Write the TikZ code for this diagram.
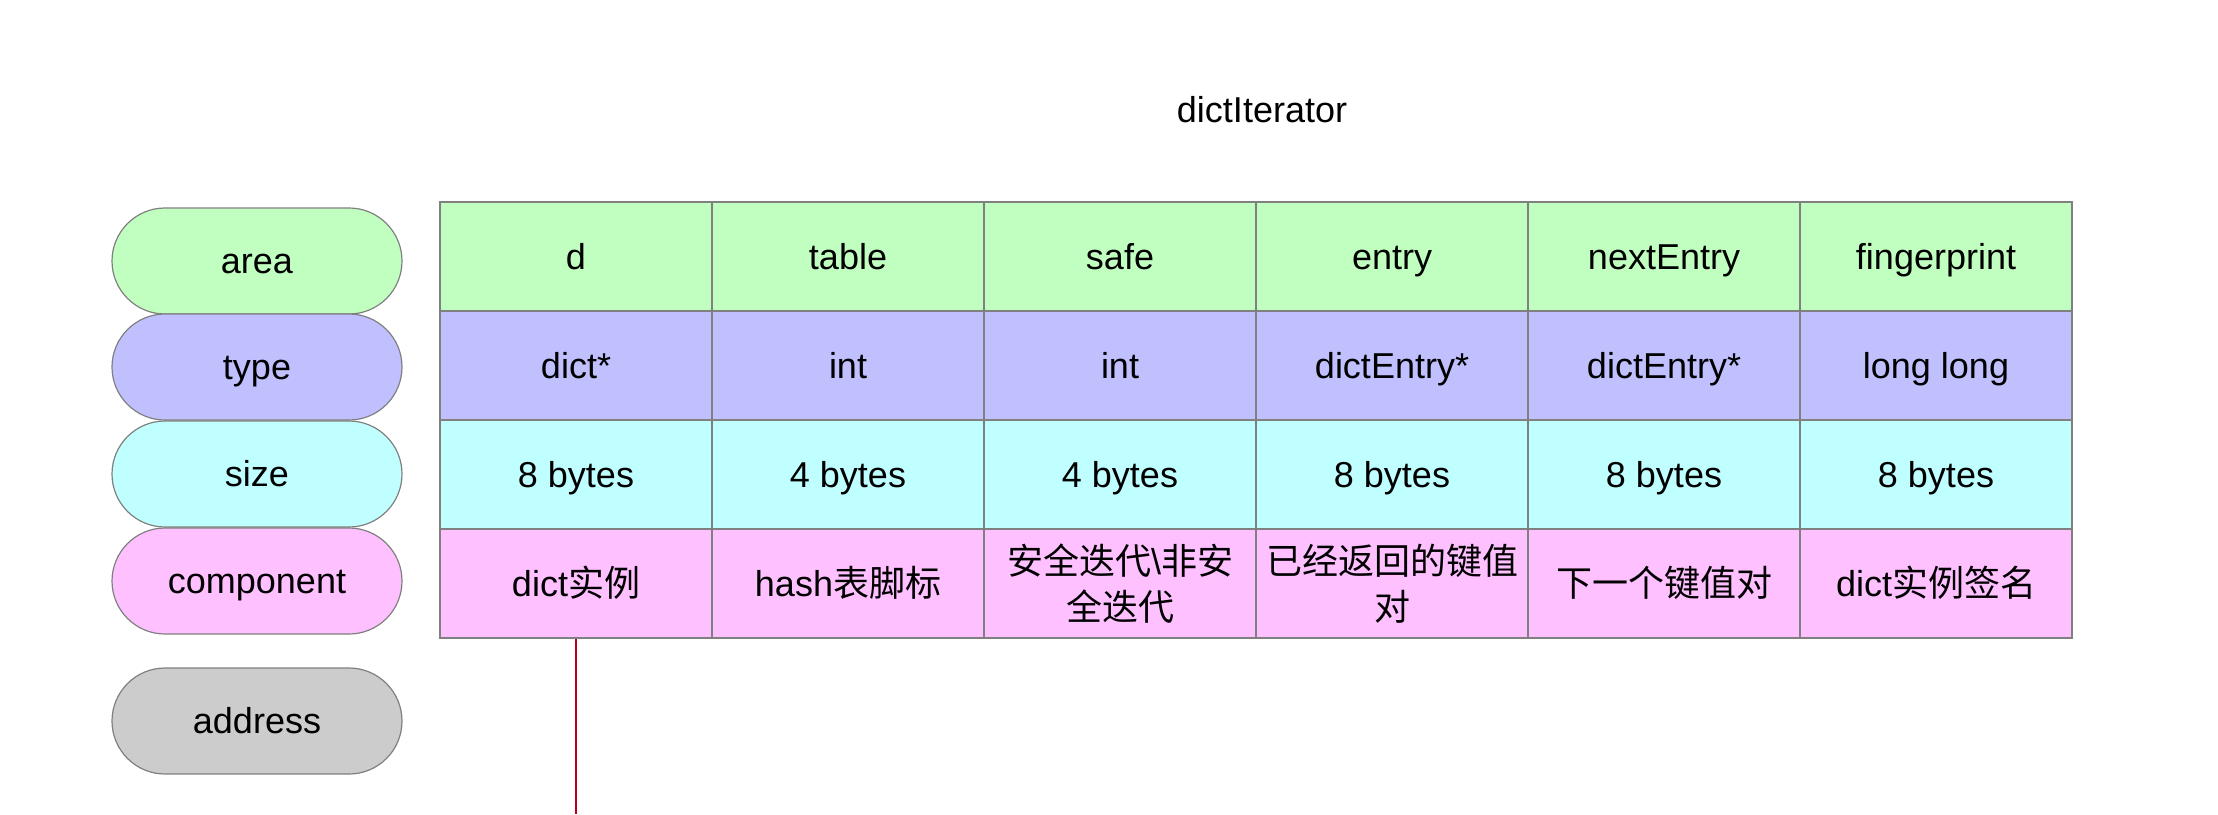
\documentclass[tikz,border=0pt]{standalone}
\usepackage{fontspec}
\setmainfont{Liberation Sans}
\newfontfamily\cjk{Noto Sans CJK SC}
\definecolor{cgreen}{RGB}{192,255,192}
\definecolor{cpurple}{RGB}{192,192,255}
\definecolor{ccyan}{RGB}{192,255,255}
\definecolor{cpink}{RGB}{255,192,255}
\definecolor{cgray}{RGB}{204,204,204}
\definecolor{bordergray}{RGB}{128,128,128}
\definecolor{linered}{RGB}{178,0,32}
\begin{document}
\begin{tikzpicture}[x=1pt,y=-1pt,
  txt/.style={font=\fontsize{36}{46}\selectfont},
  oneline/.style={text height=32.6pt, text depth=7.6pt},
  cell/.style={txt, draw=bordergray, line width=2pt, minimum width=272pt, minimum height=109pt, inner sep=0pt, align=center},
  pill/.style={txt, oneline, draw=bordergray, line width=1.2pt, minimum width=290pt, minimum height=106pt, rounded corners=53pt, inner sep=0pt},
  link/.style={draw=linered, line width=2pt}]
\useasboundingbox (0,0) rectangle (2218,814);
\node[txt, oneline] (title) at (1262,110) {dictIterator};
% pills
\node[pill, fill=cgreen] (p-area) at (257,261) {area};
\node[pill, fill=cpurple] (p-type) at (257,367) {type};
\node[pill, fill=ccyan] (p-size) at (257,474) {size};
\node[pill, fill=cpink] (p-comp) at (257,581) {component};
\node[pill, fill=cgray] (p-addr) at (257,721) {address};
% row 1
\node[cell, oneline, fill=cgreen] (a1) at (576,256.5) {d};
\node[cell, oneline, fill=cgreen] (a2) at (848,256.5) {table};
\node[cell, oneline, fill=cgreen] (a3) at (1120,256.5) {safe};
\node[cell, oneline, fill=cgreen] (a4) at (1392,256.5) {entry};
\node[cell, oneline, fill=cgreen] (a5) at (1664,256.5) {nextEntry};
\node[cell, oneline, fill=cgreen] (a6) at (1936,256.5) {fingerprint};
% row 2
\node[cell, oneline, fill=cpurple] (t1) at (576,365.5) {dict*};
\node[cell, oneline, fill=cpurple] (t2) at (848,365.5) {int};
\node[cell, oneline, fill=cpurple] (t3) at (1120,365.5) {int};
\node[cell, oneline, fill=cpurple] (t4) at (1392,365.5) {dictEntry*};
\node[cell, oneline, fill=cpurple] (t5) at (1664,365.5) {dictEntry*};
\node[cell, oneline, fill=cpurple] (t6) at (1936,365.5) {long long};
% row 3
\node[cell, oneline, fill=ccyan] (s1) at (576,474.5) {8 bytes};
\node[cell, oneline, fill=ccyan] (s2) at (848,474.5) {4 bytes};
\node[cell, oneline, fill=ccyan] (s3) at (1120,474.5) {4 bytes};
\node[cell, oneline, fill=ccyan] (s4) at (1392,474.5) {8 bytes};
\node[cell, oneline, fill=ccyan] (s5) at (1664,474.5) {8 bytes};
\node[cell, oneline, fill=ccyan] (s6) at (1936,474.5) {8 bytes};
% row 4
\node[cell, oneline, fill=cpink] (c1) at (576,583.5) {dict{\cjk 实例}};
\node[cell, oneline, fill=cpink] (c2) at (848,583.5) {hash{\cjk 表脚标}};
\node[cell, fill=cpink] (c3) at (1120,583.5) {{\cjk 安全迭代}\textbackslash{\cjk 非安}\\{\cjk 全迭代}};
\node[cell, fill=cpink] (c4) at (1392,583.5) {{\cjk 已经返回的键值}\\{\cjk 对}};
\node[cell, oneline, fill=cpink] (c5) at (1664,583.5) {{\cjk 下一个键值对}};
\node[cell, oneline, fill=cpink] (c6) at (1936,583.5) {dict{\cjk 实例签名}};
% connector
\coordinate (end) at (576,814);
\draw[link] (c1.south) -- (end);
\end{tikzpicture}
\end{document}
